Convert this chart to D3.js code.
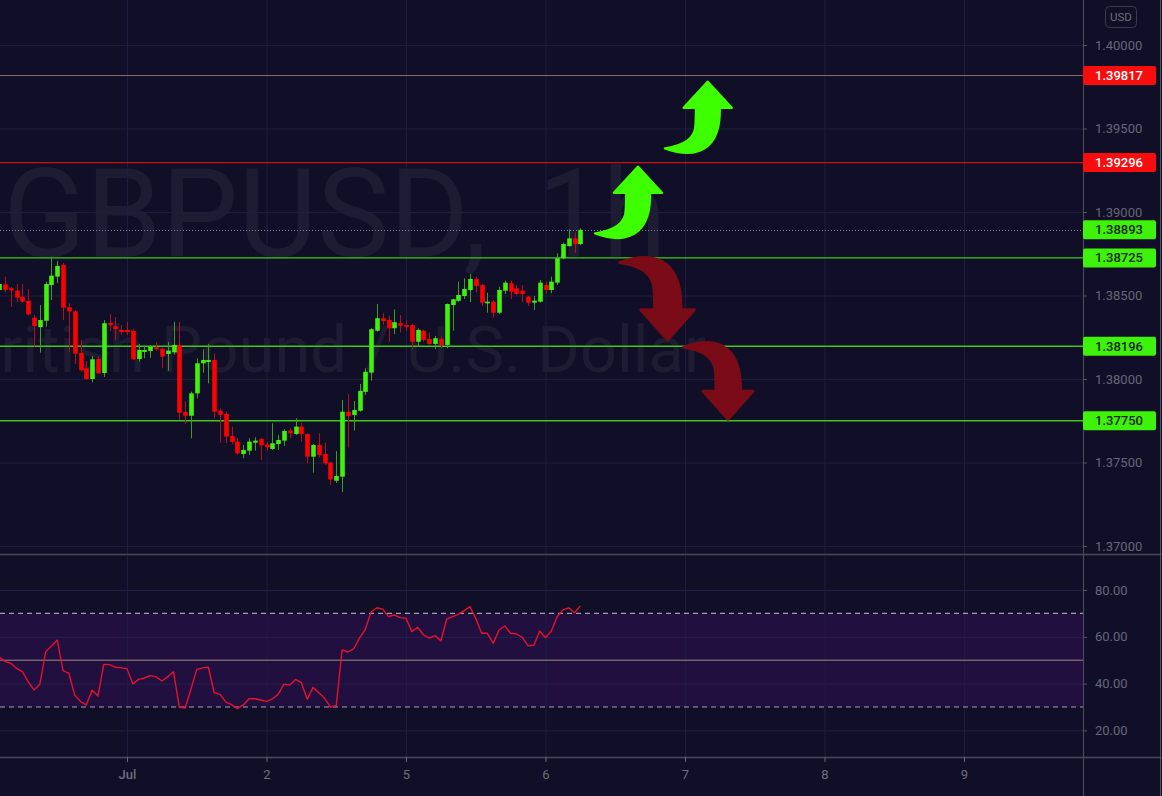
<!DOCTYPE html>
<html>
<head>
<meta charset="utf-8">
<script src="https://cdn.jsdelivr.net/npm/d3@7"></script>
<style>
  html,body{margin:0;padding:0;background:#110f27;}
  svg{display:block;}
  text{font-family:Roboto,"Liberation Sans",sans-serif;}
</style>
</head>
<body>
<svg id="chart" width="1162" height="796"></svg>
<script>
// ---------------- DATA ----------------
// hourly candles, index 0 = Jul 1 00:00 (forex hours, weekend skipped)
const firstIndex = -22;
const opens = [1.38533,1.38567,1.38543,1.38529,1.38491,1.38467,1.38367,1.38311,1.38349,1.38563,1.38613,1.38683,1.38429,1.38405,1.38156,1.38064,1.38000,1.38120,1.38036,1.38335,1.38315,1.38294,
1.38294,1.38289,1.38120,1.38162,1.38168,1.38190,1.38182,1.38150,1.38160,1.38204,1.37802,1.37780,1.37914,1.38094,1.38102,1.38114,1.37810,1.37791,1.37659,1.37625,1.37551,1.37571,1.37619,1.37641,
1.37607,1.37581,1.37611,1.37631,1.37691,1.37671,1.37715,1.37671,1.37535,1.37605,1.37551,1.37499,1.37391,1.37415,1.37804,1.37785,1.37810,1.37923,1.38038,1.38289,1.38364,1.38353,1.38304,1.38334,
1.38323,1.38323,1.38223,1.38289,1.38240,1.38210,1.38240,1.38204,1.38443,1.38468,1.38497,1.38533,1.38599,1.38563,1.38453,1.38463,1.38397,1.38529,1.38573,1.38543,1.38529,1.38493,1.38457,1.38463,
1.38563,1.38533,1.38577,1.38723,1.38796,1.38842,1.38808];
const highs = [1.38581,1.38613,1.38551,1.38569,1.38569,1.38539,1.38383,1.38443,1.38583,1.38733,1.38707,1.38695,1.38453,1.38413,1.38234,1.38108,1.38138,1.38134,1.38353,1.38389,1.38371,1.38323,
1.38343,1.38299,1.38210,1.38194,1.38204,1.38222,1.38184,1.38222,1.38343,1.38343,1.37868,1.37924,1.38124,1.38178,1.38210,1.38154,1.37825,1.37804,1.37715,1.37645,1.37605,1.37645,1.37651,1.37647,
1.37625,1.37735,1.37665,1.37699,1.37705,1.37765,1.37739,1.37675,1.37611,1.37675,1.37619,1.37505,1.37569,1.37874,1.37910,1.37868,1.37970,1.38064,1.38304,1.38449,1.38394,1.38377,1.38417,1.38383,
1.38349,1.38329,1.38304,1.38294,1.38278,1.38258,1.38254,1.38453,1.38481,1.38583,1.38603,1.38629,1.38613,1.38569,1.38517,1.38473,1.38553,1.38589,1.38589,1.38563,1.38563,1.38497,1.38497,1.38593,
1.38583,1.38613,1.38753,1.38816,1.38896,1.38876,1.38903];
const lows = [1.38527,1.38519,1.38431,1.38461,1.38455,1.38379,1.38194,1.38158,1.38313,1.38473,1.38575,1.38353,1.38164,1.38090,1.38044,1.37994,1.37980,1.38030,1.38012,1.38287,1.38234,1.38263,
1.38263,1.38114,1.38104,1.38124,1.38126,1.38168,1.38064,1.38050,1.38146,1.37755,1.37731,1.37645,1.37884,1.38038,1.37974,1.37765,1.37619,1.37615,1.37611,1.37545,1.37525,1.37545,1.37571,1.37515,
1.37571,1.37575,1.37575,1.37599,1.37645,1.37665,1.37625,1.37495,1.37439,1.37531,1.37485,1.37365,1.37377,1.37323,1.37591,1.37691,1.37804,1.37904,1.37990,1.38283,1.38323,1.38223,1.38269,1.38278,
1.38289,1.38178,1.38197,1.38223,1.38206,1.38178,1.38184,1.38184,1.38289,1.38462,1.38479,1.38461,1.38517,1.38437,1.38397,1.38369,1.38389,1.38509,1.38479,1.38503,1.38461,1.38437,1.38413,1.38457,
1.38513,1.38513,1.38563,1.38717,1.38792,1.38756,1.38802];
const closes = [1.38569,1.38533,1.38531,1.38487,1.38463,1.38387,1.38317,1.38353,1.38569,1.38619,1.38677,1.38427,1.38405,1.38152,1.38052,1.38000,1.38118,1.38034,1.38334,1.38323,1.38299,1.38281,
1.38281,1.38118,1.38174,1.38174,1.38192,1.38178,1.38134,1.38170,1.38204,1.37798,1.37780,1.37914,1.38094,1.38114,1.38114,1.37804,1.37785,1.37655,1.37623,1.37555,1.37575,1.37625,1.37631,1.37603,
1.37591,1.37615,1.37635,1.37689,1.37675,1.37715,1.37671,1.37535,1.37605,1.37545,1.37495,1.37399,1.37419,1.37804,1.37778,1.37814,1.37929,1.38043,1.38298,1.38364,1.38347,1.38304,1.38340,1.38319,
1.38313,1.38223,1.38294,1.38234,1.38210,1.38244,1.38204,1.38449,1.38477,1.38503,1.38539,1.38599,1.38557,1.38457,1.38463,1.38397,1.38533,1.38577,1.38523,1.38509,1.38509,1.38457,1.38469,1.38577,
1.38533,1.38583,1.38723,1.38808,1.38842,1.38808,1.38893];
const rsiValues = [51.5,49.4,48.7,46.5,45.1,40.8,37.3,39.7,53.6,56.1,58.6,45.5,44.4,35.1,32.3,30.9,37.3,34.7,48.2,48.1,47.0,46.7,
46.4,39.8,41.8,42.4,43.4,42.9,41.1,42.9,45.1,29.9,29.6,37.6,46.1,46.7,47.0,36.1,35.4,32.1,31.0,29.3,30.9,33.5,33.5,33.0,
32.4,33.5,35.4,39.8,39.4,41.8,40.4,33.3,38.4,36.1,33.7,29.9,30.7,54.4,53.5,54.9,59.4,63.2,70.7,72.4,71.8,68.6,69.3,68.2,
67.9,62.2,64.1,60.8,59.4,60.5,58.2,67.6,68.6,69.6,71.2,72.9,67.9,61.5,61.5,57.2,62.9,64.6,61.5,61.2,59.8,56.1,56.4,62.5,
59.6,62.5,68.6,71.5,72.4,70.3,73.2];

const dayTickIndex = [0,24,48,72,96,120,144];
const dayLabels = ["Jul","2","5","6","7","8","9"];
const priceTicks = [1.370,1.375,1.380,1.385,1.390,1.395,1.400];
const rsiTicks = [20,40,60,80];
const rsiBands = [30,50,70];

const resistanceLevels = [1.39817,1.39296];
const supportLevels = [1.38725,1.38196,1.37750];
const lastPrice = 1.38893;

// annotation arrows: tip position in (bar index, price)
const upArrowTips = [[87.9,1.39271],[99.9,1.39780]];
const downArrowTips = [[93.0,1.38234],[103.4,1.37759]];

const symbolParts = ["GBPUSD,", "1h"];
const descText = "British Pound / U.S. Dollar";
const currencyText = "USD";

// ---------------- DRAW ----------------
const W = 1162, H = 796;
const paneR = 1083, mainB = 554, rsiT = 556, rsiB = 757;

const svg = d3.select("#chart");
const x = d3.scaleLinear().domain([0,144]).range([127,964]);
const y = d3.scaleLinear().domain([1.37,1.40]).range([546,45]);
const yr = d3.scaleLinear().domain([20,80]).range([730.4,590]);

const candles = opens.map((o,i)=>({i:firstIndex+i,o:o,h:highs[i],l:lows[i],c:closes[i]}));

svg.append("rect").attr("width",W).attr("height",H).attr("fill","#110f27");

const defs = svg.append("defs");
defs.append("clipPath").attr("id","mainClip").append("rect")
  .attr("x",0).attr("y",0).attr("width",paneR).attr("height",mainB);
defs.append("clipPath").attr("id","rsiClip").append("rect")
  .attr("x",0).attr("y",rsiT).attr("width",paneR).attr("height",rsiB-rsiT);

const main = svg.append("g").attr("clip-path","url(#mainClip)");

// watermark
const wm1 = main.append("text").attr("y",257)
  .attr("font-size",125).attr("fill","#ffffff").attr("fill-opacity",0.055);
wm1.append("tspan").attr("x",3).attr("textLength",484).attr("lengthAdjust","spacingAndGlyphs").text(symbolParts[0]);
wm1.append("tspan").attr("x",538).attr("textLength",128).attr("lengthAdjust","spacingAndGlyphs").text(symbolParts[1]);
main.append("text").attr("x",-40).attr("y",372)
  .attr("font-size",64).attr("fill","#ffffff").attr("fill-opacity",0.055)
  .attr("textLength",746).attr("lengthAdjust","spacingAndGlyphs")
  .text(descText);

// grid (main)
const gridColor = "#201c40";
main.append("g").attr("transform",`translate(${paneR},0)`)
  .call(d3.axisLeft(y).tickValues(priceTicks).tickSize(paneR).tickFormat(""))
  .call(g=>g.select(".domain").remove())
  .call(g=>g.selectAll("line").attr("stroke",gridColor));
main.append("g").attr("transform",`translate(0,${mainB})`)
  .call(d3.axisTop(x).tickValues(dayTickIndex).tickSize(mainB).tickFormat(""))
  .call(g=>g.select(".domain").remove())
  .call(g=>g.selectAll("line").attr("stroke",gridColor));

// levels
main.append("line").attr("x1",0).attr("x2",paneR)
  .attr("y1",y(resistanceLevels[0])).attr("y2",y(resistanceLevels[0]))
  .attr("stroke","#8e6a6c").attr("stroke-width",1);
main.append("line").attr("x1",0).attr("x2",paneR)
  .attr("y1",y(resistanceLevels[1])).attr("y2",y(resistanceLevels[1]))
  .attr("stroke","#c81212").attr("stroke-width",1.3);
main.selectAll("line.sup").data(supportLevels).enter().append("line")
  .attr("class","sup").attr("x1",0).attr("x2",paneR)
  .attr("y1",d=>y(d)).attr("y2",d=>y(d))
  .attr("stroke","#3cc81c").attr("stroke-width",1.3);
main.append("line").attr("x1",0).attr("x2",paneR)
  .attr("y1",Math.round(y(lastPrice))+0.5).attr("y2",Math.round(y(lastPrice))+0.5)
  .attr("stroke","#7580b4").attr("stroke-width",1).attr("stroke-dasharray","1,2");

// candles
const upCol = "#3ff20b", dnCol = "#ff0000";
const upWick = "#3a9e1e", dnWick = "#b3101c";
const bw = 4.6;
const cg = main.append("g");
cg.selectAll("line.wick").data(candles).enter().append("line")
  .attr("x1",d=>Math.round(x(d.i))+0.5).attr("x2",d=>Math.round(x(d.i))+0.5)
  .attr("y1",d=>y(d.h)).attr("y2",d=>y(d.l))
  .attr("stroke",d=>d.c>=d.o?upWick:dnWick).attr("stroke-width",1);
cg.selectAll("rect.body").data(candles).enter().append("rect")
  .attr("x",d=>Math.round(x(d.i))+0.5-bw/2).attr("width",bw)
  .attr("y",d=>y(Math.max(d.o,d.c)))
  .attr("height",d=>Math.max(1,Math.abs(y(d.o)-y(d.c))))
  .attr("fill",d=>d.c>=d.o?upCol:dnCol);

// arrows
const arrowPath = "M0,0 L24,26 L12,26 C13,62 -5,80 -42.7,66.7 C-25,64 -12,58 -12,42 L-11.5,26 L-24,26 Z";
const ag = main.append("g");
upArrowTips.forEach(t=>{
  ag.append("path").attr("d",arrowPath)
    .attr("transform",`translate(${x(t[0])},${y(t[1])})`)
    .attr("fill","#3dff00").attr("stroke","#3dff00").attr("stroke-width",2.5)
    .attr("stroke-linejoin","round");
});
const downScales = [[1.12,-1.16],[1.05,-1.08]];
downArrowTips.forEach((t,k)=>{
  ag.append("path").attr("d",arrowPath)
    .attr("transform",`translate(${x(t[0])},${y(t[1])}) scale(${downScales[k][0]},${downScales[k][1]})`)
    .attr("fill","#7b0b17").attr("stroke","#7b0b17").attr("stroke-width",2.5)
    .attr("stroke-linejoin","round");
});

// ---------- RSI pane ----------
const rsi = svg.append("g").attr("clip-path","url(#rsiClip)");
rsi.append("rect").attr("x",0).attr("width",paneR)
  .attr("y",yr(rsiBands[2])).attr("height",yr(rsiBands[0])-yr(rsiBands[2]))
  .attr("fill","#210f40");
rsi.append("g").attr("transform",`translate(${paneR},0)`)
  .call(d3.axisLeft(yr).tickValues(rsiTicks).tickSize(paneR).tickFormat(""))
  .call(g=>g.select(".domain").remove())
  .call(g=>g.selectAll("line").attr("stroke","#2a2350").attr("stroke-opacity",0.8));
rsi.append("g").attr("transform",`translate(0,${rsiB})`)
  .call(d3.axisTop(x).tickValues(dayTickIndex).tickSize(rsiB-rsiT).tickFormat(""))
  .call(g=>g.select(".domain").remove())
  .call(g=>g.selectAll("line").attr("stroke",gridColor));
[rsiBands[0],rsiBands[2]].forEach(v=>{
  rsi.append("line").attr("x1",0).attr("x2",paneR)
    .attr("y1",yr(v)).attr("y2",yr(v))
    .attr("stroke","#a29fb0").attr("stroke-width",1.2).attr("stroke-dasharray","5,4");
});
rsi.append("line").attr("x1",0).attr("x2",paneR)
  .attr("y1",yr(rsiBands[1])).attr("y2",yr(rsiBands[1]))
  .attr("stroke","#a08a82").attr("stroke-width",1);
rsi.append("path").datum(rsiValues)
  .attr("d",d3.line().x((d,i)=>x(firstIndex+i)).y(d=>yr(d)))
  .attr("fill","none").attr("stroke","#e8102c").attr("stroke-width",1.4)
  .attr("stroke-linejoin","round");

// ---------- separators ----------
const sepCol = "#4a4858";
svg.append("line").attr("x1",0).attr("x2",W).attr("y1",mainB+0.5).attr("y2",mainB+0.5)
  .attr("stroke",sepCol).attr("stroke-width",1.5);
svg.append("line").attr("x1",0).attr("x2",W).attr("y1",rsiB+0.5).attr("y2",rsiB+0.5)
  .attr("stroke",sepCol).attr("stroke-width",1.5);
svg.append("line").attr("x1",paneR+0.5).attr("x2",paneR+0.5).attr("y1",0).attr("y2",H)
  .attr("stroke",sepCol).attr("stroke-width",1.2);
svg.append("line").attr("x1",W-1.5).attr("x2",W-1.5).attr("y1",0).attr("y2",H)
  .attr("stroke","#55545f").attr("stroke-width",1);

// ---------- axes ----------
const axisText = "#666677";
svg.append("g").attr("transform",`translate(${paneR},0)`)
  .call(d3.axisRight(y).tickValues(priceTicks).tickFormat(d3.format(".5f")).tickSize(4).tickPadding(8))
  .call(g=>g.select(".domain").remove())
  .call(g=>g.selectAll("line").attr("stroke","#55545f"))
  .call(g=>g.selectAll("text").attr("fill",axisText).attr("font-size",13).attr("font-family","Roboto"));
svg.append("g").attr("transform",`translate(${paneR},0)`)
  .call(d3.axisRight(yr).tickValues(rsiTicks).tickFormat(d3.format(".2f")).tickSize(4).tickPadding(8))
  .call(g=>g.select(".domain").remove())
  .call(g=>g.selectAll("line").attr("stroke","#55545f"))
  .call(g=>g.selectAll("text").attr("fill",axisText).attr("font-size",13).attr("font-family","Roboto"));
svg.append("g").attr("transform",`translate(0,${rsiB})`)
  .call(d3.axisBottom(x).tickValues(dayTickIndex).tickFormat((d,i)=>dayLabels[i]).tickSize(5).tickPadding(8))
  .call(g=>g.select(".domain").remove())
  .call(g=>g.selectAll("line").attr("stroke","#6a6975"))
  .call(g=>g.selectAll("text").attr("fill","#6e6d7c").attr("font-size",13).attr("font-family","Roboto")
      .attr("font-weight",(d,i)=>i===0?"500":"400"));

// price badges
const badges = [
  {v:resistanceLevels[0], bg:"#f70d0d", fg:"#ffffff"},
  {v:resistanceLevels[1], bg:"#f70d0d", fg:"#ffffff"},
  {v:lastPrice, bg:"#3ef20b", fg:"#10240a"},
  {v:supportLevels[0], bg:"#3ef20b", fg:"#10240a"},
  {v:supportLevels[1], bg:"#3ef20b", fg:"#10240a"},
  {v:supportLevels[2], bg:"#3ef20b", fg:"#10240a"}
];
const bg = svg.append("g");
badges.forEach(b=>{
  const yy = y(b.v);
  bg.append("rect").attr("x",paneR).attr("y",yy-9.5).attr("width",73).attr("height",19)
    .attr("rx",2).attr("fill",b.bg);
  bg.append("text").attr("x",paneR+12).attr("y",yy).attr("dy","0.35em")
    .attr("font-size",13).attr("font-weight","500").attr("fill",b.fg)
    .text(d3.format(".5f")(b.v));
});

// currency box
svg.append("rect").attr("x",1105.5).attr("y",6.5).attr("width",31).attr("height",21)
  .attr("rx",4).attr("fill","none").attr("stroke","#3b3a4b");
svg.append("text").attr("x",1121).attr("y",17).attr("dy","0.35em").attr("text-anchor","middle")
  .attr("font-size",11.5).attr("fill","#6e6d7c").text(currencyText);
</script>
</body>
</html>
